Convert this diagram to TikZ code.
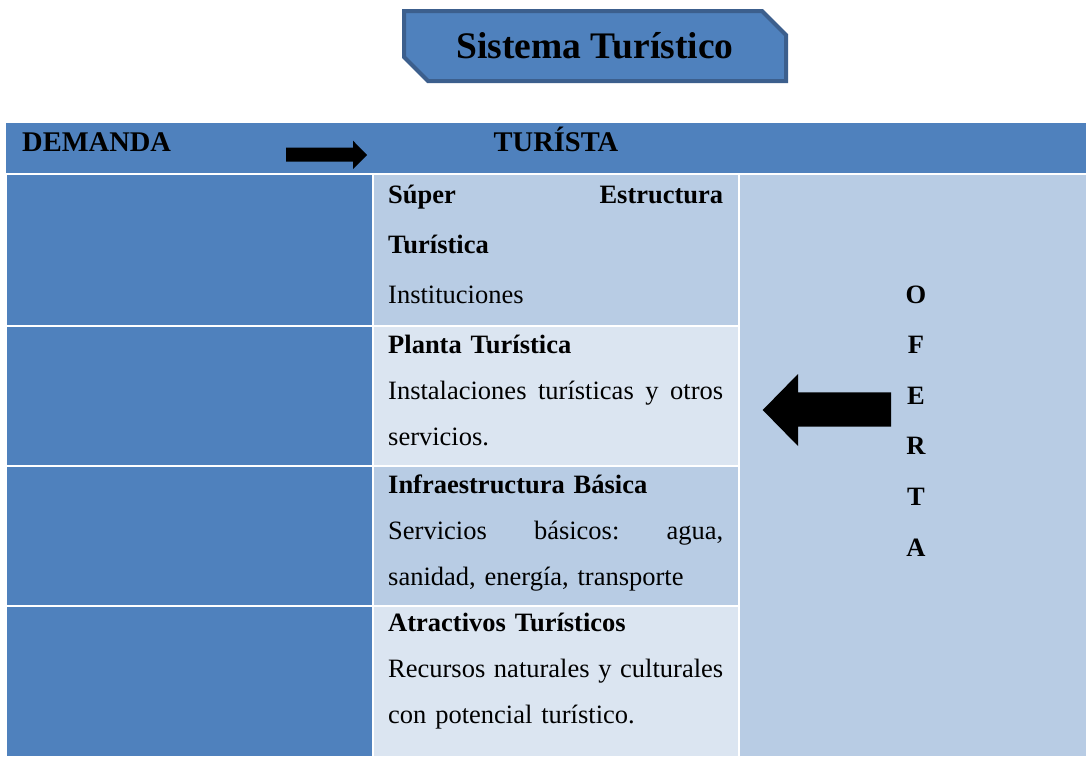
\documentclass[tikz,border=0pt]{standalone}
\usepackage{fontspec}
\setmainfont{Liberation Serif}
\usetikzlibrary{shapes.misc,positioning}

\definecolor{oscuro}{HTML}{4F81BD}
\definecolor{medio}{HTML}{B8CCE4}
\definecolor{claro}{HTML}{DBE5F1}
\definecolor{borde}{HTML}{3C5F8D}

% a justified line of the subsystem cells
\newcommand{\lineajust}[1]{\makebox[335pt][l]{#1}}

\begin{document}
\frenchspacing
\begin{tikzpicture}[
        x=1pt, y=-1pt,
        celda/.style={
            inner sep=0pt,
            outer sep=0pt,
            anchor=north west
        },
        titulo/.style={
            chamfered rectangle,
            chamfered rectangle corners={north east,south west},
            chamfered rectangle xsep=12pt,
            chamfered rectangle ysep=12pt,
            fill=oscuro,
            draw=borde,
            line width=4pt,
            minimum width=382pt,
            minimum height=70pt,
            inner sep=0pt,
            font=\fontsize{37.5}{40}\selectfont\bfseries
        },
        cabecera/.style={
            anchor=base,
            inner sep=0pt,
            font=\fontsize{28.5}{30}\selectfont\bfseries
        },
        texto/.style={
            anchor=base west,
            inner sep=0pt,
            text width=335pt,
            align=left,
            font=\fontsize{26.5}{46}\selectfont
        },
        letra/.style={
            anchor=base,
            inner sep=0pt,
            font=\fontsize{26.5}{30}\selectfont\bfseries
        },
        flecha/.style={fill=black}
    ]
        \fill[white] (0,0) rectangle (1086,756);
        \useasboundingbox (0,0) rectangle (1086,756);

        % Title
        \node[titulo] (sistema) at (595,46) {Sistema Turístico};

        % Header band
        \node[celda, fill=oscuro, minimum width=1080pt, minimum height=50pt]
            (banda) at (6,122.5) {};
        \node[cabecera, anchor=base west] (demanda) at (22,151) {DEMANDA};
        \node[cabecera] (turista) at (556,151) {TURÍSTA};
        \fill[flecha] (286,147.7) -- (353,147.7) -- (353,140.7) -- (367,155)
            -- (353,169) -- (353,161.7) -- (286,161.7) -- cycle;

        % Rows of the table
        \foreach \y/\h/\c [count=\i] in {174.5/150.5/medio, 327/137.5/claro,
                466.5/138/medio, 606.5/149.5/claro} {
            \node[celda, fill=oscuro, minimum width=365.5pt,
                minimum height=\h pt] (dem\i) at (6.5,\y) {};
            \node[celda, fill=\c, minimum width=364.5pt,
                minimum height=\h pt] (sub\i) at (373.5,\y) {};
        }
        \node[celda, fill=medio, minimum width=346pt, minimum height=581.5pt]
            (oferta) at (740,174.5) {};

        % Subsystems
        \node[texto, font=\fontsize{26.5}{50}\selectfont] (superestructura)
            at (388,203) {\lineajust{\textbf{Súper}\hfill\textbf{Estructura}}\\
            \textbf{Turística}\\Instituciones};
        \node[texto] (planta) at (388,353) {\textbf{Planta Turística}\\
            \lineajust{Instalaciones\hfill turísticas\hfill y\hfill otros}\\
            servicios.};
        \node[texto] (infraestructura) at (388,493)
            {\textbf{Infraestructura Básica}\\
            \lineajust{Servicios\hfill básicos:\hfill agua,}\\
            sanidad, energía, transporte};
        \node[texto] (atractivos) at (388,631)
            {\textbf{Atractivos Turísticos}\\
            \lineajust{Recursos\hfill naturales\hfill y\hfill culturales}\\
            con potencial turístico.};

        % Offer, written downwards
        \foreach \l [count=\i from 0] in {O,F,E,R,T,A}
            \node[letra] (of\i) at (916,303+50.6*\i) {\l};
        \fill[flecha] (891,392.3) -- (798,392.3) -- (798,374) -- (762.7,410)
            -- (798,446) -- (798,426.7) -- (891,426.7) -- cycle;
\end{tikzpicture}
\end{document}
